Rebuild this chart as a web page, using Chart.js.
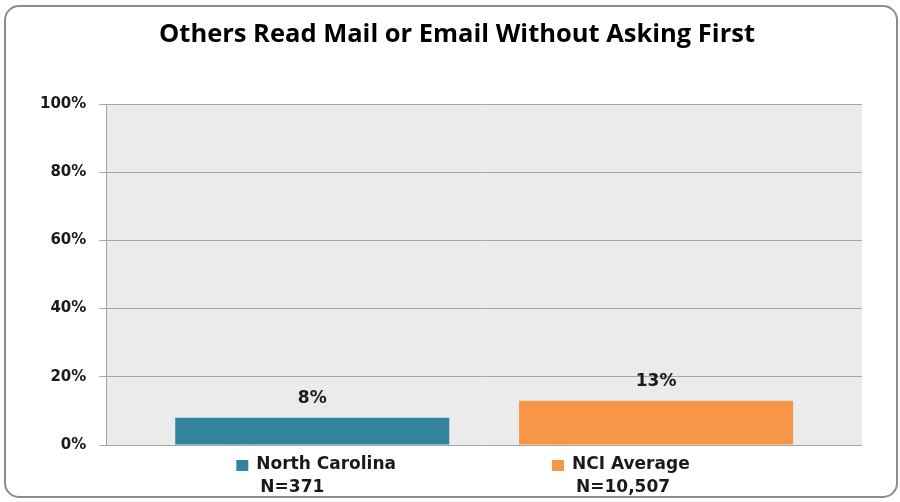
<!DOCTYPE html>
<html>
<head>
<meta charset="utf-8">
<script src="https://cdn.jsdelivr.net/npm/chart.js@4"></script>
<style>
  html, body { margin: 0; padding: 0; background: #fff; }
  #wrap { width: 900px; height: 502px; }
</style>
</head>
<body>
<div id="wrap"><canvas id="myChart" width="900" height="502"></canvas></div>
<script>
// survey groups and what they reported
const groups = ['North Carolina', 'NCI Average'];
const sampleSizes = [371, 10507];
const percents = [8, 13];
const yMax = 100;
const yStep = 20;
const chartTitle = 'Others Read Mail or Email Without Asking First';

const barColors = ['#31849b', '#f79646'];
const labelFont = 'bold 17px "DejaVu Sans"';

// white card with rounded grey frame, title, grey plot background
const cardPlugin = {
    id: 'card',
    beforeDraw(chart) {
        const ctx = chart.ctx;
        const a = chart.chartArea;
        ctx.save();
        ctx.fillStyle = '#ffffff';
        ctx.fillRect(0, 0, chart.width, chart.height);
        ctx.beginPath();
        ctx.roundRect(5, 6, chart.width - 8, chart.height - 11, 14);
        ctx.strokeStyle = '#8c8c8c';
        ctx.lineWidth = 2;
        ctx.stroke();
        ctx.fillStyle = '#ebebeb';
        ctx.fillRect(a.left, a.top, a.right - a.left, a.bottom - a.top);

        ctx.fillStyle = '#000000';
        ctx.font = 'bold 25.5px "Open Sans"';
        ctx.textAlign = 'center';
        ctx.textBaseline = 'middle';
        ctx.fillText(chartTitle, 457, 35);
        ctx.restore();
    }
};

// percent above each bar
const valuePlugin = {
    id: 'values',
    afterDatasetsDraw(chart) {
        const ctx = chart.ctx;
        ctx.save();
        ctx.font = labelFont;
        ctx.fillStyle = '#1a1a1a';
        ctx.textAlign = 'center';
        ctx.textBaseline = 'middle';
        chart.data.datasets.forEach((ds, i) => {
            const bar = chart.getDatasetMeta(i).data[0];
            ctx.fillText(ds.data[0] + '%', bar.x, bar.y - 19);
        });
        ctx.restore();
    }
};

// legend under the plot, group name with N underneath
const legendPlugin = {
    id: 'nLegend',
    afterDraw(chart) {
        const ctx = chart.ctx;
        const box = 12, gap = 8, between = 156;
        ctx.save();
        ctx.font = labelFont;
        const widths = groups.map((g, i) => {
            const n = 'N=' + sampleSizes[i].toLocaleString('en-US');
            return box + gap + Math.max(ctx.measureText(g).width, ctx.measureText(n).width);
        });
        const total = widths.reduce((s, w) => s + w, 0) + between * (groups.length - 1);
        let x = 463 - total / 2;
        const y1 = chart.chartArea.bottom + 20;
        const y2 = y1 + 23;
        ctx.textBaseline = 'middle';
        ctx.textAlign = 'left';
        groups.forEach((g, i) => {
            ctx.fillStyle = barColors[i];
            ctx.fillRect(x, y1 - 5, box, box - 1);
            ctx.fillStyle = '#1a1a1a';
            ctx.fillText(g, x + box + gap, y1);
            ctx.fillText('N=' + sampleSizes[i].toLocaleString('en-US'), x + box + gap + 4, y2);
            x += widths[i] + between;
        });
        ctx.restore();
    }
};

const ctx = document.getElementById('myChart').getContext('2d');
const chart = new Chart(ctx, {
    type: 'bar',
    data: {
        labels: [''],
        datasets: groups.map((g, i) => ({
            label: g,
            data: [percents[i]],
            backgroundColor: barColors[i],
            borderWidth: 0,
            categoryPercentage: 0.91,
            barPercentage: 0.797
        }))
    },
    options: {
        responsive: false,
        animation: false,
        devicePixelRatio: 1,
        layout: { padding: { left: 27, right: 38, top: 104, bottom: 57 } },
        plugins: {
            legend: { display: false },
            tooltip: { enabled: false },
            title: { display: false }
        },
        scales: {
            x: { display: false },
            y: {
                min: 0,
                max: yMax,
                ticks: {
                    stepSize: yStep,
                    padding: 13,
                    color: '#1a1a1a',
                    font: { family: 'DejaVu Sans', weight: 'bold', size: 15 },
                    callback: v => v + '%'
                },
                grid: { color: '#a6a6a6', tickLength: 7, lineWidth: 1 },
                border: { color: '#a6a6a6' }
            }
        }
    },
    plugins: [cardPlugin, valuePlugin, legendPlugin]
});
</script>
</body>
</html>
